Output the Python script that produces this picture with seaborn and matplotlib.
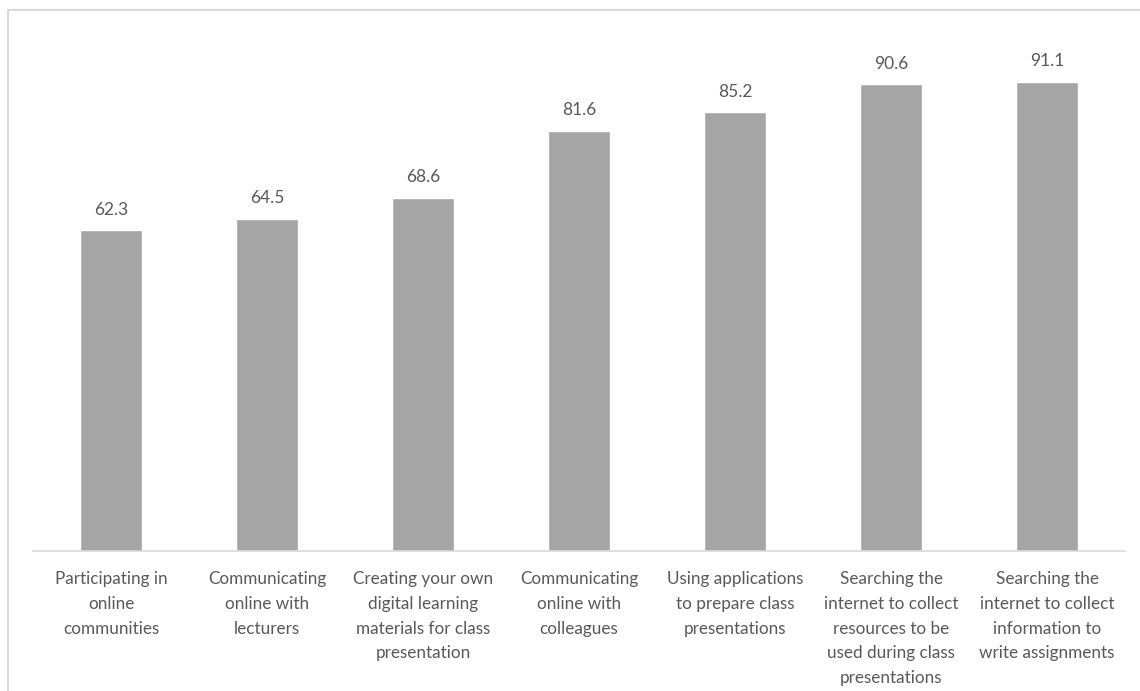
import matplotlib
matplotlib.use("Agg")
import matplotlib.pyplot as plt
from matplotlib.lines import Line2D
import seaborn as sns
import pandas as pd

# activity labels, wrapped the way they appear on the chart
categories = [
    "Participating in\nonline\ncommunities",
    "Communicating\nonline with\nlecturers",
    "Creating your own\ndigital learning\nmaterials for class\npresentation",
    "Communicating\nonline with\ncolleagues",
    "Using applications\nto prepare class\npresentations",
    "Searching the\ninternet to collect\nresources to be\nused during class\npresentations",
    "Searching the\ninternet to collect\ninformation to\nwrite assignments",
]
percentages = [62.3, 64.5, 68.6, 81.6, 85.2, 90.6, 91.1]

bar_color = "#a5a5a5"
text_color = "#595959"
line_color = "#d9d9d9"

sns.set_style("white")
plt.rcParams["font.family"] = ["Lato", "DejaVu Sans"]

df = pd.DataFrame({"activity": categories, "pct": percentages})

fig = plt.figure(figsize=(11.4, 6.91), dpi=100)
ax = fig.add_axes([33 / 1140, 1 - 551 / 691, 1092 / 1140, 515 / 691])

sns.barplot(data=df, x="activity", y="pct", color=bar_color, width=0.4,
            saturation=1, ax=ax)
ax.set_ylim(0, 100)
ax.set_xlim(-0.5, len(categories) - 0.5)

for i, v in enumerate(percentages):
    ax.text(i, v + 2.4, f"{v:.1f}", ha="center", va="bottom",
            fontsize=12.5, color=text_color)

ax.set_xlabel("")
ax.set_ylabel("")
ax.set_yticks([])
ax.tick_params(axis="x", length=0, pad=14.5)
for lbl in ax.get_xticklabels():
    lbl.set_fontsize(12.3)
    lbl.set_color(text_color)
    lbl.set_linespacing(1.67)
    lbl.set_va("top")

for side in ["top", "left", "right"]:
    ax.spines[side].set_visible(False)
ax.spines["bottom"].set_color(line_color)
ax.spines["bottom"].set_linewidth(1.2)

# outer chart frame (only the top and left edges are visible)
fig.add_artist(Line2D([7.5 / 1140, 1], [1 - 9.5 / 691, 1 - 9.5 / 691],
                      color=line_color, lw=1.5, transform=fig.transFigure))
fig.add_artist(Line2D([7.5 / 1140, 7.5 / 1140], [0, 1 - 9.5 / 691],
                      color=line_color, lw=1.5, transform=fig.transFigure))

fig.savefig("out.png", dpi=100)
plt.close(fig)
